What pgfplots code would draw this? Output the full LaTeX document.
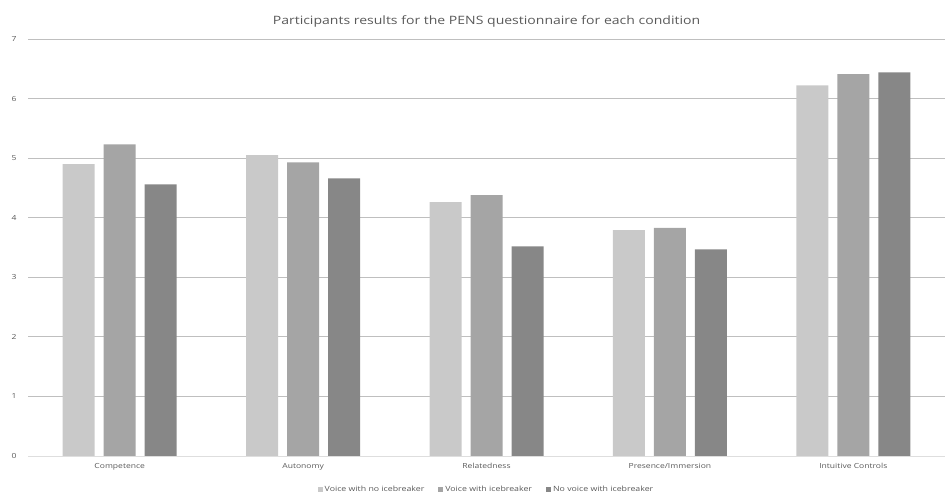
\documentclass[border=0pt]{standalone}
\usepackage{pgfplots}
\pgfplotsset{compat=1.18}
\usepackage{fontspec}
\setmainfont{Open Sans}[FakeStretch=1.22]
\definecolor{txt}{HTML}{595959}
\definecolor{grid}{HTML}{DEDEDE}
\definecolor{sA}{HTML}{C9C9C9}
\definecolor{sB}{HTML}{A5A5A5}
\definecolor{sC}{HTML}{878787}
\begin{document}
\begin{tikzpicture}
\begin{axis}[
  scale only axis,
  width=917pt, height=417pt,
  ybar=9pt, bar width=32pt,
  xmin=-0.5, xmax=4.5,
  ymin=0, ymax=7,
  xtick=data,
  xticklabels={Competence,Autonomy,Relatedness,Presence/Immersion,Intuitive Controls},
  ytick={0,1,...,7},
  axis x line*=bottom,
  axis y line*=left,
  y axis line style={draw=none},
  x axis line style={grid, line width=0.7pt},
  ymajorgrids, xmajorgrids=false,
  grid style={grid, line width=0.7pt},
  major tick length=0pt,
  tick label style={font=\fontsize{7}{8}\selectfont, text=txt},
  /pgf/number format/assume math mode=true,
  xticklabel style={yshift=-4pt},
  yticklabel style={xshift=-8pt},
  title={Participants results for the PENS questionnaire for each condition},
  title style={font=\fontsize{11.5}{13}\selectfont, text=txt, yshift=2pt},
  legend style={draw=none, fill=none, at={(0.5,-0.062)}, anchor=north, legend columns=-1,
    font=\fontsize{7.2}{8}\selectfont, text=txt,
    /tikz/every even column/.append style={column sep=12pt}},
  legend image code/.code={\fill[#1] (0pt,-2pt) rectangle (5pt,3pt);},
]
\addplot[fill=sA, draw=none] coordinates {(0,4.90) (1,5.05) (2,4.26) (3,3.79) (4,6.22)};
\addplot[fill=sB, draw=none] coordinates {(0,5.23) (1,4.93) (2,4.38) (3,3.83) (4,6.41)};
\addplot[fill=sC, draw=none] coordinates {(0,4.56) (1,4.66) (2,3.52) (3,3.47) (4,6.44)};
\legend{Voice with no icebreaker,Voice with icebreaker,No voice with icebreaker}
\end{axis}
\pgfresetboundingbox
\path ([shift={(-28pt,-39pt)}]current axis.south west) rectangle ([shift={(2pt,39pt)}]current axis.north east);
\end{tikzpicture}
\end{document}
